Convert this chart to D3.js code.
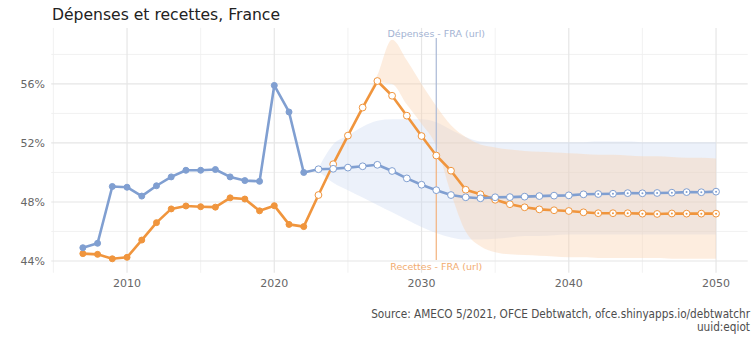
<!DOCTYPE html>
<html>
<head>
<meta charset="utf-8">
<script src="https://cdn.jsdelivr.net/npm/d3@7"></script>
<style>
  body { margin: 0; background: #fff; }
  svg { display: block; font-family: "DejaVu Sans", sans-serif; }
</style>
</head>
<body>
<div id="chart"></div>
<script>
// years 2007..2050, observed up to 2022, projection after
var years = d3.range(2007, 2051);
var lastObs = 2022;

var depenses = [44.9, 45.2, 49.05, 49.0, 48.4, 49.1, 49.7, 50.15, 50.15, 50.2,
  49.7, 49.45, 49.4, 55.9, 54.1, 50.0,
  50.22, 50.25, 50.33, 50.42, 50.52, 50.1, 49.6, 49.17, 48.8, 48.47,
  48.32, 48.25, 48.32, 48.33, 48.36, 48.4, 48.43, 48.45, 48.52, 48.54,
  48.56, 48.6, 48.59, 48.61, 48.63, 48.67, 48.66, 48.7];

var recettes = [44.5, 44.45, 44.15, 44.25, 45.42, 46.6, 47.53, 47.73, 47.68, 47.65,
  48.28, 48.2, 47.4, 47.75, 46.48, 46.33,
  48.47, 50.56, 52.5, 54.4, 56.2, 55.2, 53.85, 52.47, 51.15, 50.12,
  48.83, 48.52, 48.15, 47.85, 47.64, 47.5, 47.44, 47.39, 47.3, 47.24,
  47.24, 47.24, 47.21, 47.19, 47.22, 47.21, 47.21, 47.21];

// uncertainty bands for the projections
var bandYears = d3.range(2023, 2051);
var depLow = [50.1, 49.3, 48.8, 48.3, 47.8, 47.3, 46.8, 46.3, 45.9, 45.6,
  45.45, 45.45, 45.5, 45.6, 45.7, 45.7, 45.75, 45.8, 45.8, 45.8,
  45.8, 45.8, 45.8, 45.8, 45.8, 45.8, 45.8, 45.8];
var depHigh = [50.3, 51.9, 52.5, 53.1, 53.5, 53.6, 53.6, 53.6, 53.4, 52.9,
  52.4, 52.1, 52.05, 52.05, 52.05, 52.05, 52.05, 52.05, 52.05, 52.1,
  52.1, 52.1, 52.05, 52.05, 52.05, 52.05, 52.05, 52.05];
var recLow = [48.45, 50.5, 52.4, 54.3, 56.1, 56.0, 54.6, 53.3, 51.8, 48.6,
  46.0, 45.0, 44.6, 44.45, 44.4, 44.35, 44.3, 44.25, 44.25, 44.2,
  44.2, 44.2, 44.2, 44.2, 44.15, 44.15, 44.15, 44.15];
var recHigh = [48.5, 50.65, 52.6, 54.5, 56.6, 59.0, 57.6, 56.0, 54.5, 53.2,
  52.4, 51.9, 51.7, 51.55, 51.45, 51.4, 51.35, 51.3, 51.25, 51.2,
  51.2, 51.15, 51.1, 51.1, 51.05, 51.0, 51.0, 50.95];

var yTicks = [44, 48, 52, 56];
var yMinor = [46, 50, 54, 58];
var xTicks = [2010, 2020, 2030, 2040, 2050];
var xMinor = [2005, 2015, 2025, 2035, 2045];
var markYear = 2031;

var blue = "#809fd1", orange = "#f0953d";

var width = 754, height = 337;
var x = d3.scaleLinear().domain([2004.85, 2052.15]).range([51.2, 747.7]);
var y = d3.scaleLinear().domain([43.2, 59.8]).range([272.8, 27.9]);

var svg = d3.select("#chart").append("svg")
  .attr("width", width).attr("height", height);

// grid
var grid = svg.append("g");
grid.selectAll(".ymin").data(yMinor).enter().append("line")
  .attr("x1", x.range()[0]).attr("x2", x.range()[1])
  .attr("y1", y).attr("y2", y)
  .attr("stroke", "#efefef").attr("stroke-width", 0.8);
grid.selectAll(".xmin").data(xMinor).enter().append("line")
  .attr("y1", y.range()[0]).attr("y2", y.range()[1])
  .attr("x1", x).attr("x2", x)
  .attr("stroke", "#efefef").attr("stroke-width", 0.8);
grid.selectAll(".ymaj").data(yTicks).enter().append("line")
  .attr("x1", x.range()[0]).attr("x2", x.range()[1])
  .attr("y1", y).attr("y2", y)
  .attr("stroke", "#e6e6e6").attr("stroke-width", 1.2);
grid.selectAll(".xmaj").data(xTicks).enter().append("line")
  .attr("y1", y.range()[0]).attr("y2", y.range()[1])
  .attr("x1", x).attr("x2", x)
  .attr("stroke", "#e6e6e6").attr("stroke-width", 1.2);

// bands
function band(lo, hi) {
  return d3.area()
    .x(function(d, i) { return x(bandYears[i]); })
    .y0(function(d, i) { return y(lo[i]); })
    .y1(function(d, i) { return y(hi[i]); })
    .curve(d3.curveMonotoneX)(bandYears);
}
svg.append("path").attr("d", band(depLow, depHigh))
  .attr("fill", "#c9d7f0").attr("fill-opacity", 0.35);
svg.append("path").attr("d", band(recLow, recHigh))
  .attr("fill", "#fbd3b0").attr("fill-opacity", 0.4);

// vertical marker lines
svg.append("line")
  .attr("x1", x(markYear)).attr("x2", x(markYear))
  .attr("y1", 38).attr("y2", y(recettes[years.indexOf(markYear)]))
  .attr("stroke", "#a9b8d6").attr("stroke-width", 1.2);
svg.append("line")
  .attr("x1", x(markYear)).attr("x2", x(markYear))
  .attr("y1", y(recettes[years.indexOf(markYear)])).attr("y2", 260)
  .attr("stroke", "#f3b27c").attr("stroke-width", 1.2);
svg.append("text").attr("x", x(markYear)).attr("y", 36.5)
  .attr("text-anchor", "middle").attr("font-size", 9.5)
  .attr("fill", "#a3b3d3").text("Dépenses - FRA (url)");
svg.append("text").attr("x", x(markYear)).attr("y", 269.5)
  .attr("text-anchor", "middle").attr("font-size", 9.5)
  .attr("fill", "#f2ac70").text("Recettes - FRA (url)");

// series
function drawSeries(vals, color) {
  var pts = years.map(function(yr, i) { return {yr: yr, v: vals[i]}; });
  svg.append("path").datum(pts)
    .attr("d", d3.line().x(function(d) { return x(d.yr); }).y(function(d) { return y(d.v); }))
    .attr("fill", "none").attr("stroke", color).attr("stroke-width", 2.6)
    .attr("stroke-linejoin", "round");
  svg.append("g").selectAll("circle").data(pts).enter().append("circle")
    .attr("cx", function(d) { return x(d.yr); })
    .attr("cy", function(d) { return y(d.v); })
    .attr("r", function(d) { return d.yr <= lastObs ? 3 : 3.4; })
    .attr("fill", function(d) { return d.yr <= lastObs ? color : "#fff"; })
    .attr("stroke", color).attr("stroke-width", 1);
  // later projection points carry a centre dot
  svg.append("g").selectAll("circle").data(pts.filter(function(d) { return d.yr >= 2042; }))
    .enter().append("circle")
    .attr("cx", function(d) { return x(d.yr); })
    .attr("cy", function(d) { return y(d.v); })
    .attr("r", 1).attr("fill", color);
}
drawSeries(recettes, orange);
drawSeries(depenses, blue);

// axes labels
svg.append("g").selectAll("text").data(yTicks).enter().append("text")
  .attr("x", 45).attr("y", function(d) { return y(d) + 4; })
  .attr("text-anchor", "end").attr("font-size", 11).attr("fill", "#666")
  .text(function(d) { return d + "%"; });
svg.append("g").selectAll("text").data(xTicks).enter().append("text")
  .attr("x", x).attr("y", 287)
  .attr("text-anchor", "middle").attr("font-size", 11).attr("fill", "#666")
  .text(function(d) { return d; });

// title and source
svg.append("text").attr("x", 52).attr("y", 20)
  .attr("font-size", 15.6).attr("fill", "#222")
  .text("Dépenses et recettes, France");
svg.append("text").attr("x", 750).attr("y", 318)
  .attr("text-anchor", "end").attr("font-size", 11.7).attr("fill", "#4d4d4d")
  .attr("font-family", "'DejaVu Sans Condensed', 'DejaVu Sans', sans-serif")
  .text("Source: AMECO 5/2021, OFCE Debtwatch, ofce.shinyapps.io/debtwatchr");
svg.append("text").attr("x", 750).attr("y", 331)
  .attr("text-anchor", "end").attr("font-size", 11.7).attr("fill", "#4d4d4d")
  .attr("font-family", "'DejaVu Sans Condensed', 'DejaVu Sans', sans-serif")
  .text("uuid:eqiot");
</script>
</body>
</html>
